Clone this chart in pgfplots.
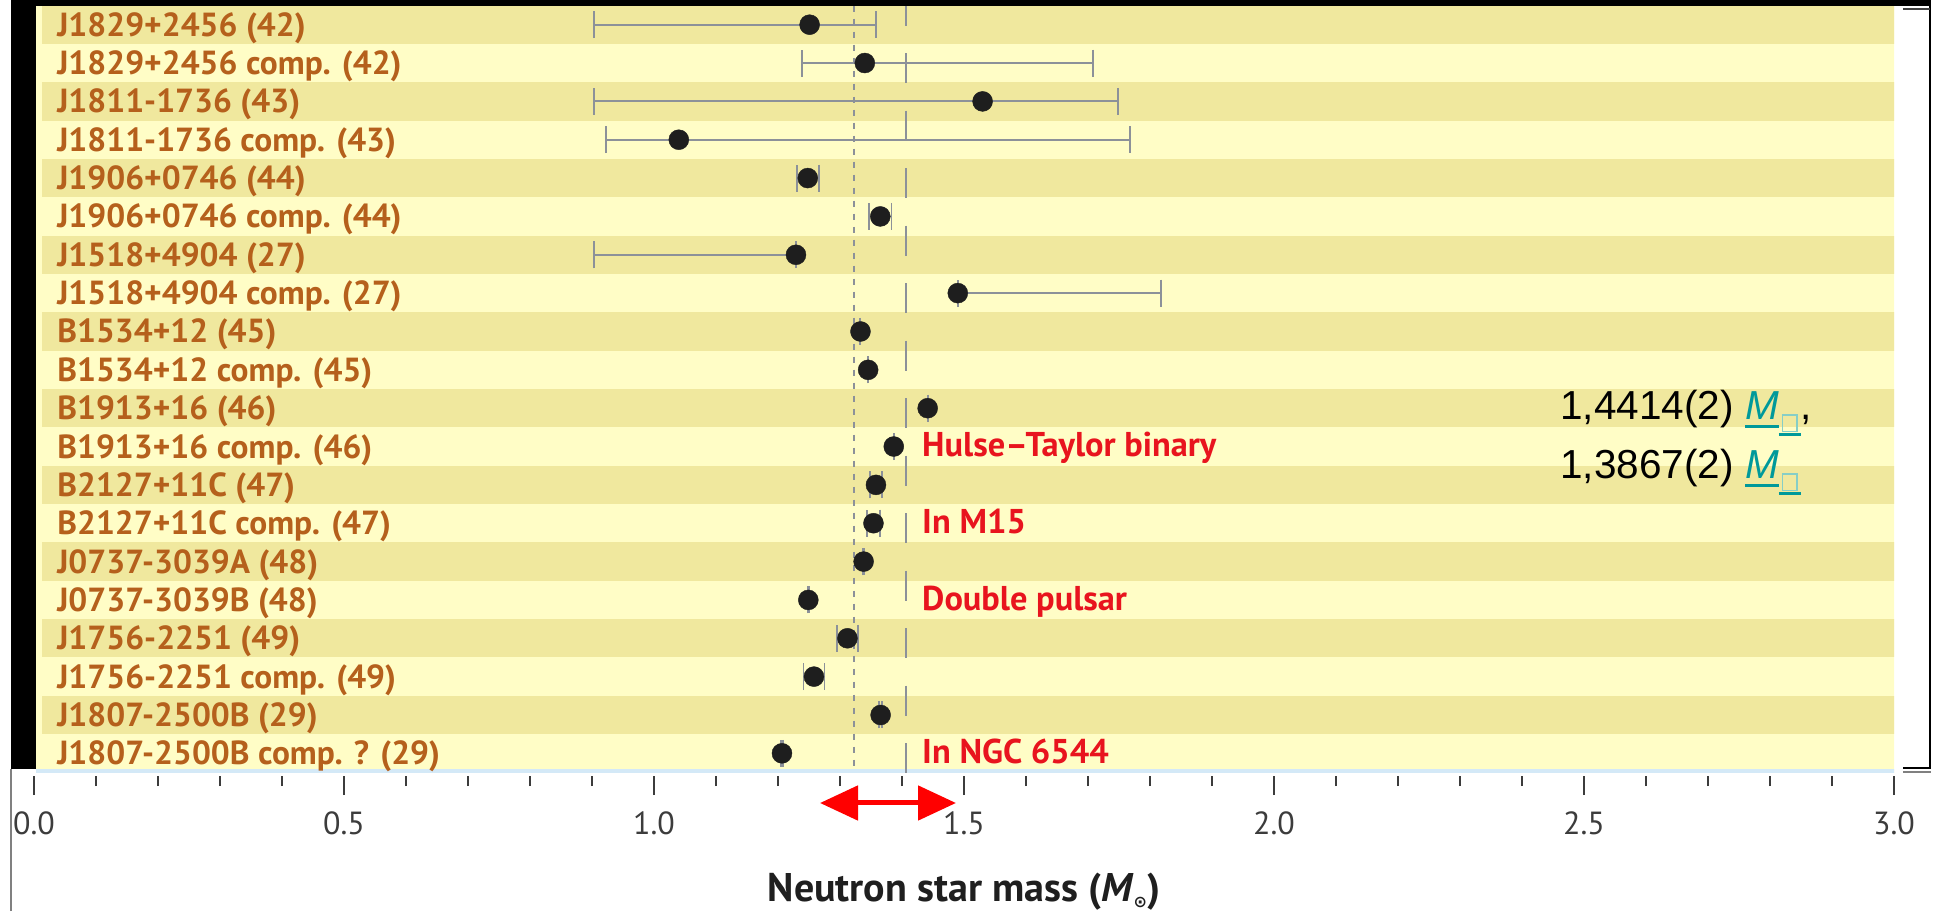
\documentclass[border=0pt]{standalone}
\usepackage{pgfplots}
\pgfplotsset{compat=1.18}
\usepackage{pgfplotstable}
\usepackage{fontspec}
\usetikzlibrary{arrows.meta}
\setmainfont{PT Sans}
\newfontfamily\arialfont{Liberation Sans}
\newfontfamily\symfont{DejaVu Sans}

\definecolor{stripedark}{HTML}{F0E89E}
\definecolor{stripelight}{HTML}{FFFDC6}
\definecolor{labelbrown}{HTML}{B5601C}
\definecolor{notered}{HTML}{E8141E}
\definecolor{bargrey}{HTML}{8C9199}
\definecolor{dotblack}{HTML}{1E1E1E}
\definecolor{tickgrey}{HTML}{3C3C3C}
\definecolor{linkteal}{HTML}{00999A}
\definecolor{boxteal}{HTML}{86CEC6}
\definecolor{baseblue}{HTML}{D4E9F7}

% neutron star masses (solar masses) with asymmetric uncertainties
\pgfplotstableread{
row m      ep     em
1   1.251  0.107  0.348
2   1.340  0.368  0.101
3   1.530  0.218  0.627
4   1.040  0.728  0.117
5   1.248  0.018  0.018
6   1.365  0.018  0.018
7   1.229  0.0002 0.326
8   1.490  0.328  0.0002
9   1.3330 0.0002 0.0002
10  1.3454 0.0002 0.0002
11  1.4414 0.0002 0.0002
12  1.3867 0.0002 0.0002
13  1.358  0.010  0.010
14  1.354  0.010  0.010
15  1.3381 0.0007 0.0007
16  1.2489 0.0007 0.0007
17  1.312  0.017  0.017
18  1.258  0.017  0.017
19  1.3655 0.0021 0.0021
20  1.2064 0.0020 0.0020
}\masses

% underlined piece of text
\newcommand\ulined[2]{\setbox0\hbox{#2}\rlap{\color{linkteal}\rule[#1]{\wd0}{1.35pt}}\box0}
% solar-mass symbol as it appears in the note (glyph missing -> empty box)
\newcommand\msun{{\color{linkteal}\ulined{-4pt}{\itshape M}}%
  \rlap{\color{linkteal}\rule[-8pt]{11pt}{1.4pt}}%
  \makebox[11pt][c]{{\color{boxteal}\setlength\fboxrule{0.7pt}\setlength\fboxsep{0pt}%
  \raisebox{-5.5pt}{\fbox{\rule{0pt}{7.6pt}\hspace{6.6pt}}}}}}

\tikzset{
  rowlab/.style={anchor=base west, inner sep=0pt, text=labelbrown,
    font=\bfseries\fontsize{16.7}{19}\selectfont},
  note/.style={anchor=base west, inner sep=0pt, text=notered,
    font=\bfseries\fontsize{17.2}{19}\selectfont},
}

\begin{document}
\begin{tikzpicture}
\path[use as bounding box] (0,0) rectangle (967pt,455.5pt);
\begin{axis}[
  at={(17pt,69.25pt)}, anchor=south west,
  width=930pt, height=383.5pt, scale only axis,
  xmin=0, xmax=3, ymin=0.5, ymax=20.5, y dir=reverse,
  axis line style={draw=none},
  ytick=\empty,
  xtick={0,0.5,1,1.5,2,2.5,3},
  xticklabels={0.0,0.5,1.0,1.5,2.0,2.5,3.0},
  minor x tick num=4,
  xtick pos=left, xtick align=outside,
  major tick length=9.5pt, minor tick length=5pt,
  every tick/.style={tickgrey, line width=1pt, yshift=-1.75pt},
  xticklabel style={font=\fontsize{16}{17}\selectfont, text=tickgrey,
    inner sep=0pt, anchor=north, yshift=-10pt},
  xlabel={\bfseries Neutron star mass (\textit{M}\raisebox{-0.3ex}{\symfont\fontsize{8}{8}\selectfont ⊙})},
  xlabel style={at={(axis description cs:0.5,0)}, anchor=base, yshift=-64.5pt,
    inner sep=0pt, text=black!88, font=\fontsize{20}{22}\selectfont},
]
% striped rows
\fill[stripelight] (axis cs:0.003,0.5) rectangle (axis cs:3.01,20.5);
\fill[stripedark] (axis cs:0.013,0.5) rectangle (axis cs:3.01,1.5);
\fill[stripedark] (axis cs:0.013,2.5) rectangle (axis cs:3.01,3.5);
\fill[stripedark] (axis cs:0.013,4.5) rectangle (axis cs:3.01,5.5);
\fill[stripedark] (axis cs:0.013,6.5) rectangle (axis cs:3.01,7.5);
\fill[stripedark] (axis cs:0.013,8.5) rectangle (axis cs:3.01,9.5);
\fill[stripedark] (axis cs:0.013,10.5) rectangle (axis cs:3.01,11.5);
\fill[stripedark] (axis cs:0.013,12.5) rectangle (axis cs:3.01,13.5);
\fill[stripedark] (axis cs:0.013,14.5) rectangle (axis cs:3.01,15.5);
\fill[stripedark] (axis cs:0.013,16.5) rectangle (axis cs:3.01,17.5);
\fill[stripedark] (axis cs:0.013,18.5) rectangle (axis cs:3.01,19.5);
\fill[baseblue] (axis cs:0.003,20.41) rectangle (axis cs:3.01,20.5);
% reference masses
\draw[bargrey, line width=1pt, dash pattern=on 3pt off 3.5pt] (axis cs:1.323,0.5) -- (axis cs:1.323,20.5);
\draw[bargrey, line width=1pt, dash pattern=on 15pt off 13.75pt, dash phase=5pt] (axis cs:1.406,0.5) -- (axis cs:1.406,20.5);
% measurements
\addplot[only marks, mark=*, mark size=5pt,
  mark options={fill=dotblack, draw=dotblack, line width=0.2pt},
  error bars/.cd, x dir=both, x explicit, error mark=|,
  error bar style={bargrey, line width=0.9pt},
  error mark options={bargrey, line width=0.9pt, mark size=6.75pt}]
  table[x=m, y=row, x error plus=ep, x error minus=em] {\masses};
% system names
\node[rowlab] at (axis cs:0.037,1.3) {J1829+2456 (42)};
\node[rowlab] at (axis cs:0.037,2.3) {J1829+2456 comp. (42)};
\node[rowlab] at (axis cs:0.037,3.3) {J1811-1736 (43)};
\node[rowlab] at (axis cs:0.037,4.3) {J1811-1736 comp. (43)};
\node[rowlab] at (axis cs:0.037,5.3) {J1906+0746 (44)};
\node[rowlab] at (axis cs:0.037,6.3) {J1906+0746 comp. (44)};
\node[rowlab] at (axis cs:0.037,7.3) {J1518+4904 (27)};
\node[rowlab] at (axis cs:0.037,8.3) {J1518+4904 comp. (27)};
\node[rowlab] at (axis cs:0.037,9.3) {B1534+12 (45)};
\node[rowlab] at (axis cs:0.037,10.3) {B1534+12 comp. (45)};
\node[rowlab] at (axis cs:0.037,11.3) {B1913+16 (46)};
\node[rowlab] at (axis cs:0.037,12.3) {B1913+16 comp. (46)};
\node[rowlab] at (axis cs:0.037,13.3) {B2127+11C (47)};
\node[rowlab] at (axis cs:0.037,14.3) {B2127+11C comp. (47)};
\node[rowlab] at (axis cs:0.037,15.3) {J0737-3039A (48)};
\node[rowlab] at (axis cs:0.037,16.3) {J0737-3039B (48)};
\node[rowlab] at (axis cs:0.037,17.3) {J1756-2251 (49)};
\node[rowlab] at (axis cs:0.037,18.3) {J1756-2251 comp. (49)};
\node[rowlab] at (axis cs:0.037,19.3) {J1807-2500B (29)};
\node[rowlab] at (axis cs:0.037,20.3) {J1807-2500B comp. ? (29)};
% notes
\node[note] at (axis cs:1.432,12.27) {Hulse–Taylor binary};
\node[note] at (axis cs:1.432,14.27) {In M15};
\node[note] at (axis cs:1.432,16.27) {Double pulsar};
\node[note] at (axis cs:1.432,20.27) {In NGC 6544};
\end{axis}
% Hulse-Taylor masses
\node[anchor=base west, inner sep=0pt, font=\arialfont\fontsize{20.25}{24}\selectfont]
  at (780pt,245.5pt) {1,4414(2) \msun,};
\node[anchor=base west, inner sep=0pt, font=\arialfont\fontsize{20.25}{24}\selectfont]
  at (780pt,216pt) {1,3867(2) \msun};
% canonical mass range
\draw[red, line width=2.5pt, {Triangle[length=19pt,width=17pt]}-{Triangle[length=19pt,width=17pt]}]
  (410pt,54pt) -- (478pt,54pt);
% frame pieces
\fill[black] (5.5pt,71pt) rectangle (18pt,455.5pt);
\fill[black] (5.5pt,452.5pt) rectangle (965.5pt,455.5pt);
\draw[gray, line width=0.6pt] (5.5pt,0pt) -- (5.5pt,71pt);
\draw[black, line width=1pt] (965pt,452.5pt) -- (965pt,71.5pt) -- (951.5pt,71.5pt);
\draw[gray, line width=0.8pt] (951.5pt,69.5pt) -- (965.5pt,69.5pt);
\draw[darkgray, line width=1pt] (951.5pt,451pt) -- (965pt,451pt);
\end{tikzpicture}
\end{document}
